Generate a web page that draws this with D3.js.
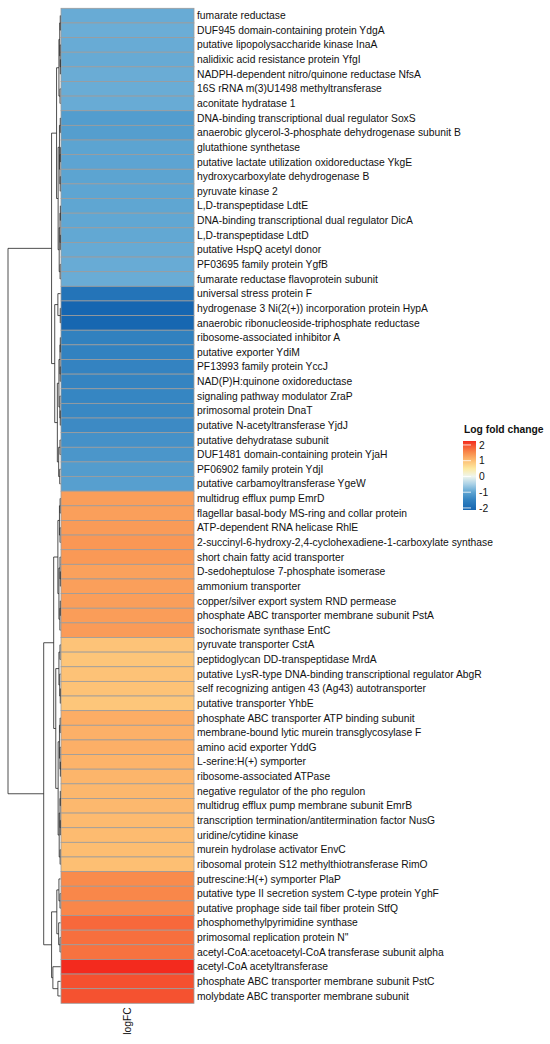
<!DOCTYPE html>
<html>
<head>
<meta charset="utf-8">
<script src="https://cdn.jsdelivr.net/npm/d3@7"></script>
<style>
  body { margin: 0; background: #fff; }
  text { font-family: "Liberation Sans", Arial, sans-serif; }
</style>
</head>
<body>
<div id="chart"></div>
<script>
// gene names, top to bottom as in the clustered heatmap
const genes = [
  "fumarate reductase",
  "DUF945 domain-containing protein YdgA",
  "putative lipopolysaccharide kinase InaA",
  "nalidixic acid resistance protein YfgI",
  "NADPH-dependent nitro/quinone reductase NfsA",
  "16S rRNA m(3)U1498 methyltransferase",
  "aconitate hydratase 1",
  "DNA-binding transcriptional dual regulator SoxS",
  "anaerobic glycerol-3-phosphate dehydrogenase subunit B",
  "glutathione synthetase",
  "putative lactate utilization oxidoreductase YkgE",
  "hydroxycarboxylate dehydrogenase B",
  "pyruvate kinase 2",
  "L,D-transpeptidase LdtE",
  "DNA-binding transcriptional dual regulator DicA",
  "L,D-transpeptidase LdtD",
  "putative HspQ acetyl donor",
  "PF03695 family protein YgfB",
  "fumarate reductase flavoprotein subunit",
  "universal stress protein F",
  "hydrogenase 3 Ni(2(+)) incorporation protein HypA",
  "anaerobic ribonucleoside-triphosphate reductase",
  "ribosome-associated inhibitor A",
  "putative exporter YdiM",
  "PF13993 family protein YccJ",
  "NAD(P)H:quinone oxidoreductase",
  "signaling pathway modulator ZraP",
  "primosomal protein DnaT",
  "putative N-acetyltransferase YjdJ",
  "putative dehydratase subunit",
  "DUF1481 domain-containing protein YjaH",
  "PF06902 family protein YdjI",
  "putative carbamoyltransferase YgeW",
  "multidrug efflux pump EmrD",
  "flagellar basal-body MS-ring and collar protein",
  "ATP-dependent RNA helicase RhlE",
  "2-succinyl-6-hydroxy-2,4-cyclohexadiene-1-carboxylate synthase",
  "short chain fatty acid transporter",
  "D-sedoheptulose 7-phosphate isomerase",
  "ammonium transporter",
  "copper/silver export system RND permease",
  "phosphate ABC transporter membrane subunit PstA",
  "isochorismate synthase EntC",
  "pyruvate transporter CstA",
  "peptidoglycan DD-transpeptidase MrdA",
  "putative LysR-type DNA-binding transcriptional regulator AbgR",
  "self recognizing antigen 43 (Ag43) autotransporter",
  "putative transporter YhbE",
  "phosphate ABC transporter ATP binding subunit",
  "membrane-bound lytic murein transglycosylase F",
  "amino acid exporter YddG",
  "L-serine:H(+) symporter",
  "ribosome-associated ATPase",
  "negative regulator of the pho regulon",
  "multidrug efflux pump membrane subunit EmrB",
  "transcription termination/antitermination factor NusG",
  "uridine/cytidine kinase",
  "murein hydrolase activator EnvC",
  "ribosomal protein S12 methylthiotransferase RimO",
  "putrescine:H(+) symporter PlaP",
  "putative type II secretion system C-type protein YghF",
  "putative prophage side tail fiber protein StfQ",
  "phosphomethylpyrimidine synthase",
  "primosomal replication protein N''",
  "acetyl-CoA:acetoacetyl-CoA transferase subunit alpha",
  "acetyl-CoA acetyltransferase",
  "phosphate ABC transporter membrane subunit PstC",
  "molybdate ABC transporter membrane subunit"
]

// logFC per gene
const logFC = [
  -0.93, -0.91, -0.93, -0.94, -0.92, -0.92, -0.93,
  -1.12, -1.10, -1.02, -1.01, -1.02, -1.00, -0.99, -0.98, -0.97, -0.94, -0.93, -0.92,
  -1.80, -2.10, -2.08,
  -1.52, -1.50, -1.48, -1.47, -1.45, -1.42, -1.38, -1.28, -1.22, -1.13, -1.08,
  1.33, 1.32, 1.36, 1.40, 1.38, 1.30, 1.32, 1.33, 1.34, 1.36,
  0.95, 0.93, 0.96, 0.97, 0.92,
  1.18, 1.15, 1.16, 1.12, 1.10,
  1.08, 1.07, 1.05, 1.04, 1.02, 1.00,
  1.52, 1.55, 1.55,
  1.80, 1.75, 1.72,
  2.25,
  2.00, 1.98
]

// row dendrogram: [height, left, right], leaves are row numbers (1-based)
const dendrogram = [10,
  [1.7,
    [0.75,
      [0.3, [0.15, [0.05, 1, 2], [0.08, 3, [0.03, 4, 5]]], [0.1, 6, 7]],
      [0.45,
        [0.2, [0.05, 8, 9], [0.12, [0.04, 10, 11], [0.06, 12, 13]]],
        [0.25, [0.1, [0.03, 14, 15], [0.05, 16, 17]], [0.08, 18, 19]]]],
    [1.1,
      [0.5, 20, [0.05, 21, 22]],
      [0.6,
        [0.3, [0.1, [0.04, 23, 24], [0.06, 25, 26]], [0.12, 27, [0.05, 28, 29]]],
        [0.35, [0.1, 30, 31], [0.15, 32, 33]]]]],
  [3.2,
    [1.3,
      [0.5,
        [0.2, [0.08, 34, 35], [0.1, 36, 37]],
        [0.3, [0.1, 38, [0.04, 39, 40]], [0.12, [0.05, 41, 42], 43]]],
      [0.9,
        [0.3, [0.1, 44, 45], [0.15, 46, [0.05, 47, 48]]],
        [0.45,
          [0.2, [0.08, 49, 50], [0.1, 51, [0.03, 52, 53]]],
          [0.25, [0.1, [0.04, 54, 55], [0.05, 56, 57]], [0.08, 58, 59]]]]],
    [1.7,
      [0.7, [0.3, 60, [0.1, 61, 62]], [0.35, 63, [0.1, 64, 65]]],
      [1.45, 66, [0.5, 67, 68]]]]
]

const colorValues = [-2.13, -1.5, -1.0, -0.5, 0, 0.5, 1.0, 1.5, 2.0, 2.25]
const colorRange = ["#1565b0", "#3282c0", "#5ea5d2", "#a8d0e6", "#eef5ee",
                    "#fde9a0", "#fdbf73", "#f98d4d", "#f5502f", "#f32a1e"]
const legendTicks = [2, 1, 0, -1, -2]
const columnName = "logFC"
const legendTitle = "Log fold change"

const width = 550
const height = 1044
const heat = { left: 61, right: 194, top: 8.3, bottom: 1003.3 }
const fontSize = 10.3

const svg = d3.select("#chart").append("svg")
    .attr("width", width)
    .attr("height", height)

const color = d3.scaleLinear()
    .domain(colorValues)
    .range(colorRange)
    .clamp(true)

const yScale = d3.scaleBand()
    .domain(genes)
    .range([heat.top, heat.bottom])

const xScale = d3.scaleBand()
    .domain([columnName])
    .range([heat.left, heat.right])

// cells
svg.append("g")
  .selectAll("rect")
  .data(genes)
  .join("rect")
    .attr("x", xScale(columnName))
    .attr("y", d => yScale(d))
    .attr("width", xScale.bandwidth())
    .attr("height", yScale.bandwidth())
    .attr("fill", (d, i) => color(logFC[i]))
    .attr("stroke", "#9c9c9c")
    .attr("stroke-width", 0.8)

// row labels
svg.append("g")
  .selectAll("text")
  .data(genes)
  .join("text")
    .attr("x", heat.right + 3)
    .attr("y", d => yScale(d) + yScale.bandwidth() / 2)
    .attr("dy", "0.35em")
    .attr("font-size", fontSize)
    .attr("fill", "#111")
    .text(d => d)

// column label
svg.append("text")
    .attr("transform", `translate(${xScale(columnName) + xScale.bandwidth() / 2},${heat.bottom + 4}) rotate(-90)`)
    .attr("text-anchor", "end")
    .attr("dy", "0.35em")
    .attr("font-size", fontSize)
    .attr("fill", "#111")
    .text(columnName)

// dendrogram
function toNode(t) {
  return Array.isArray(t)
    ? { h: t[0], children: [toNode(t[1]), toNode(t[2])] }
    : { h: 0, leaf: t }
}

const hScale = d3.scaleLinear()
    .domain([0, dendrogram[0]])
    .range([heat.left - 0.5, 8])

const root = d3.hierarchy(toNode(dendrogram))
root.eachAfter(n => {
  n.px = hScale(n.data.h)
  n.py = n.children
    ? (n.children[0].py + n.children[1].py) / 2
    : yScale(genes[n.data.leaf - 1]) + yScale.bandwidth() / 2
})

const elbow = n => {
  const [a, b] = n.children
  return `M${a.px},${a.py}H${n.px}V${b.py}H${b.px}`
}

svg.append("g")
  .selectAll("path")
  .data(root.descendants().filter(n => n.children))
  .join("path")
    .attr("d", elbow)
    .attr("fill", "none")
    .attr("stroke", "#222")
    .attr("stroke-width", 0.8)

// legend
const legend = { x: 463, y: 441, w: 13, h: 69 }
const legendScale = d3.scaleLinear()
    .domain([colorValues[0], colorValues[colorValues.length - 1]])
    .range([legend.y + legend.h, legend.y])

const grad = svg.append("defs").append("linearGradient")
    .attr("id", "lfc")
    .attr("x1", 0).attr("y1", 1).attr("x2", 0).attr("y2", 0)
grad.selectAll("stop")
  .data(colorValues)
  .join("stop")
    .attr("offset", d => (d - colorValues[0]) / (colorValues[colorValues.length - 1] - colorValues[0]))
    .attr("stop-color", d => color(d))

svg.append("rect")
    .attr("x", legend.x)
    .attr("y", legend.y)
    .attr("width", legend.w)
    .attr("height", legend.h)
    .attr("fill", "url(#lfc)")

svg.append("g")
  .selectAll("line")
  .data(legendTicks)
  .join("line")
    .attr("x1", legend.x)
    .attr("x2", legend.x + 8)
    .attr("y1", d => legendScale(d))
    .attr("y2", d => legendScale(d))
    .attr("stroke", "#fff")
    .attr("stroke-opacity", 0.8)

svg.append("g")
  .selectAll("text")
  .data(legendTicks)
  .join("text")
    .attr("x", legend.x + legend.w + 3)
    .attr("y", d => legendScale(d))
    .attr("dy", "0.35em")
    .attr("font-size", fontSize)
    .attr("fill", "#111")
    .text(d => d < 0 ? "-" + Math.abs(d) : d)

svg.append("text")
    .attr("x", legend.x + 1)
    .attr("y", legend.y - 8)
    .attr("font-size", fontSize)
    .attr("font-weight", "bold")
    .attr("fill", "#111")
    .text(legendTitle)
</script>
</body>
</html>
